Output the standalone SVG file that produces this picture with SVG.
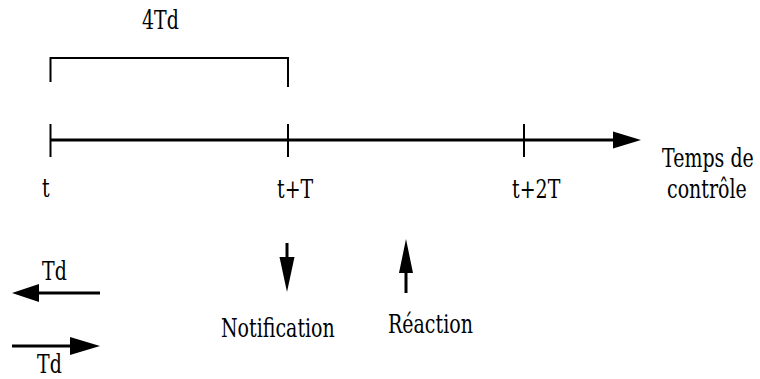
<svg xmlns="http://www.w3.org/2000/svg" width="760" height="379" viewBox="0 0 760 379">
<style>
  .ln { stroke: #000; fill: none; }
  .ax { stroke-width: 3; }
  .tk { stroke-width: 2; }
  .hd { fill: #000; stroke: none; }
</style>
<rect width="760" height="379" fill="#fff"/>
<g id="connectors">
  <path class="ln tk" d="M50.5,82 V58 H288 V87"/>
  <line class="ln ax" x1="50" y1="140" x2="614" y2="140"/>
  <polygon class="hd" points="613,131.5 641,140 613,148.5"/>
  <line class="ln tk" x1="50.5" y1="124" x2="50.5" y2="157"/>
  <line class="ln tk" x1="288" y1="124" x2="288" y2="157"/>
  <line class="ln tk" x1="524" y1="124" x2="524" y2="157"/>
  <line class="ln ax" x1="287" y1="243" x2="287" y2="258"/>
  <polygon class="hd" points="279.5,257 294.5,257 287,292"/>
  <line class="ln ax" x1="406" y1="272" x2="406" y2="293"/>
  <polygon class="hd" points="399,273 413,273 406,239"/>
  <line class="ln ax" x1="38" y1="293" x2="100" y2="293"/>
  <polygon class="hd" points="39,284 39,302 12,293"/>
  <line class="ln ax" x1="12" y1="346" x2="71" y2="346"/>
  <polygon class="hd" points="70,337 70,355 100,346"/>
</g>
<g font-family="DejaVu Serif, serif" font-size="20" fill="#000">
<g id="label-4Td"><text transform="translate(142,29) scale(0.95,1.3)">4Td</text></g>
<g id="label-t"><text transform="translate(42,197) scale(0.95,1.3)">t</text></g>
<g id="label-tT"><text transform="translate(277,198) scale(0.95,1.3)">t+T</text></g>
<g id="label-t2T"><text transform="translate(512,198) scale(0.95,1.3)">t+2T</text></g>
<g id="label-temps">
  <text transform="translate(662,167) scale(0.95,1.3)">Temps de</text>
  <text transform="translate(667,198) scale(0.95,1.3)">contrôle</text>
</g>
<g id="label-notification"><text transform="translate(221,337) scale(0.95,1.3)">Notification</text></g>
<g id="label-reaction"><text transform="translate(388,333) scale(0.95,1.3)">Réaction</text></g>
<g id="label-td1"><text transform="translate(42,280) scale(0.95,1.3)">Td</text></g>
<g id="label-td2"><text transform="translate(37,373) scale(0.95,1.3)">Td</text></g>
</g>
</svg>
